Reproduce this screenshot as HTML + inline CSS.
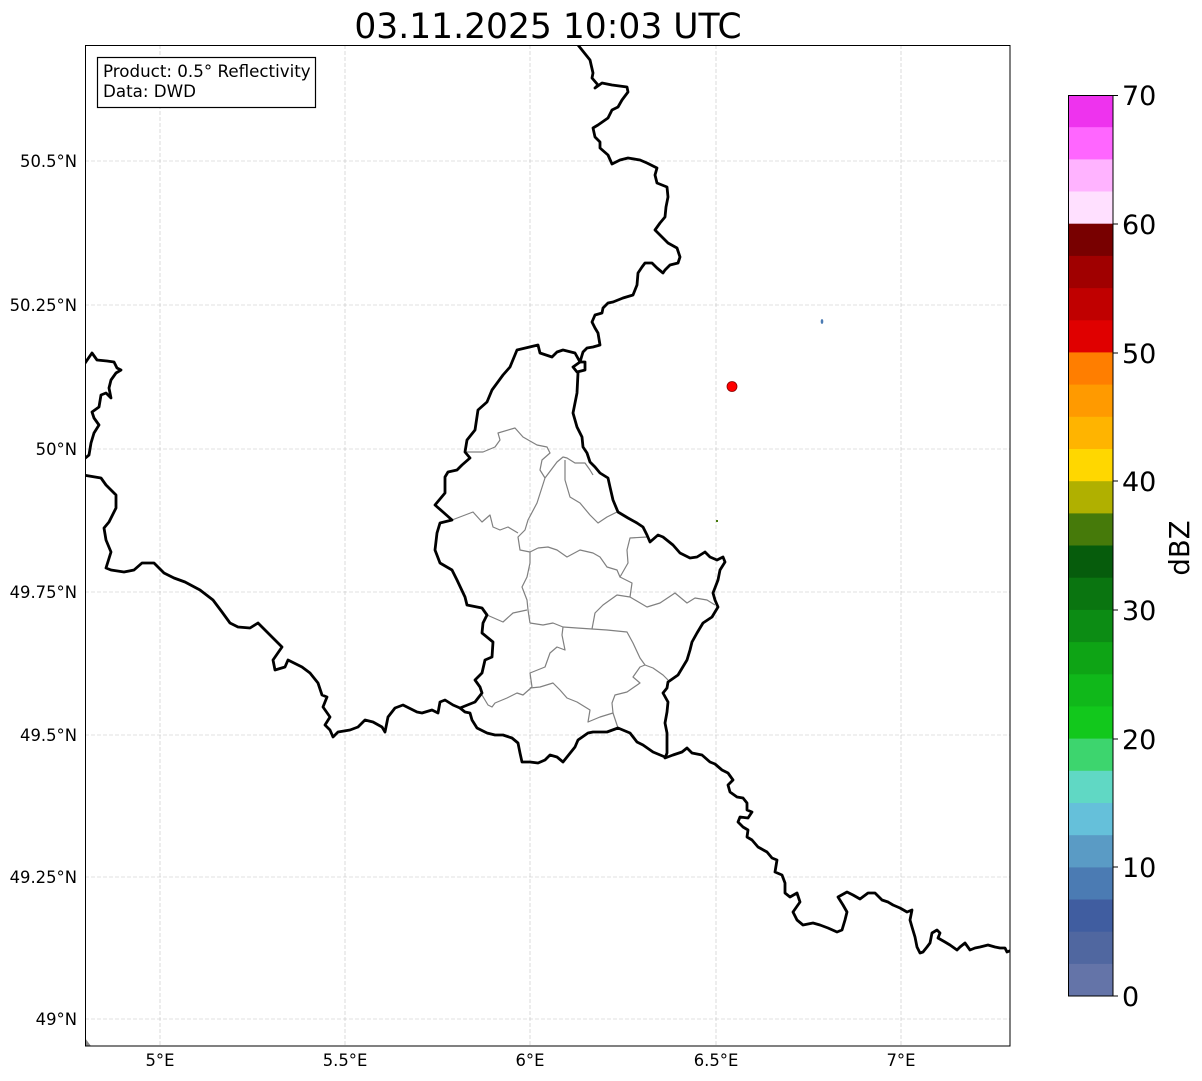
<!DOCTYPE html>
<html><head><meta charset="utf-8"><style>
html,body{margin:0;padding:0;background:#fff;}
svg{display:block;font-family:"DejaVu Sans","Liberation Sans",sans-serif;}
</style></head><body>
<svg width="1202" height="1081" viewBox="0 0 1202 1081" xmlns="http://www.w3.org/2000/svg">
<rect width="1202" height="1081" fill="#fff"/>
<defs><clipPath id="ax"><rect x="85" y="45" width="925" height="1001"/></clipPath></defs>
<text x="548" y="38" font-size="34.5" text-anchor="middle" fill="#000">03.11.2025 10:03 UTC</text>
<g stroke="#c4c4c4" stroke-width="0.6" stroke-dasharray="4,2" fill="none">
<line x1="160" y1="45" x2="160" y2="1046"/><line x1="345" y1="45" x2="345" y2="1046"/><line x1="530" y1="45" x2="530" y2="1046"/><line x1="716" y1="45" x2="716" y2="1046"/><line x1="901" y1="45" x2="901" y2="1046"/>
<line x1="85" y1="161" x2="1010" y2="161"/><line x1="85" y1="305" x2="1010" y2="305"/><line x1="85" y1="449" x2="1010" y2="449"/><line x1="85" y1="592" x2="1010" y2="592"/><line x1="85" y1="735" x2="1010" y2="735"/><line x1="85" y1="877" x2="1010" y2="877"/><line x1="85" y1="1019" x2="1010" y2="1019"/>
</g>
<g clip-path="url(#ax)">
<polygon points="85,1038 91,1046 85,1046" fill="#888"/>
<g stroke="#808080" stroke-width="1.2" fill="none" stroke-linejoin="round">
<polyline points="465,452 483,452 495,447 500,440 498,433 515,428 523,437 537,445 547,447 550,453 542,460 540,470 545,478"/>
<polyline points="545,478 557,462 563,457 567,458 575,463 585,463 590,470 593,475"/>
<polyline points="565,460 565,480 570,497 580,503 590,515 598,523 607,517 617,512"/>
<polyline points="545,478 537,503 528,520 525,530 518,537 520,550 530,552 538,548"/>
<polyline points="530,552 530,563 527,577 522,587 527,600 528,610 530,623"/>
<polyline points="452,520 473,512 482,522 490,515 493,527 500,530 508,527 518,533"/>
<polyline points="538,548 548,547 557,550 567,557 580,550 593,553 600,557 607,567 617,570 620,577 628,563 627,550 630,538 647,537"/>
<polyline points="620,577 632,583 630,597"/>
<polyline points="592,629 595,613 603,605 617,595 630,597 647,607 660,603 675,593 687,603 695,598 707,600 715,605"/>
<polyline points="487,615 503,622 513,613 527,610"/>
<polyline points="530,623 543,625 553,623 563,627 577,628 592,629 607,630 627,632 633,643 640,658 645,665 653,668 663,675 668,680"/>
<polyline points="563,627 562,635 565,650 557,647 550,653 545,667 530,673 532,687"/>
<polyline points="530,688 540,687 553,683 560,690 567,698 577,702 590,710 588,722 600,717 613,713 618,728"/>
<polyline points="613,713 612,703 615,695 627,692 640,683 633,677 640,667 645,665"/>
<polyline points="482,695 488,705 492,707 495,703 507,698 517,693 523,695 532,687"/>
</g>
<g stroke="#000" stroke-width="2.8" fill="none" stroke-linejoin="round" stroke-linecap="round">
<polyline points="578,45 590,60 593,73 592,78 598,85 595,88 602,83 612,85 627,87 628,92 622,100 618,107 612,110 608,118 598,125 593,128 595,137 600,142 600,148 608,155 612,164 620,160 628,158 640,160 647,163 657,168 655,175 657,183 667,187 668,197 666,207 665,217 660,223 655,230 662,237 668,243 677,248 680,257 678,263 670,265 665,270 663,273 657,268 652,263 645,263 642,267 638,273 637,285 633,295 623,298 613,302 608,303 603,308 602,313 595,315 592,322 595,328 598,333 600,345 593,347 587,348 583,352 580,362"/>
<polygon points="580,362 573,367 577,372 585,370 585,362"/>
<polyline points="578,373 577,393 573,413 577,427 582,437 583,447 587,453 590,462 595,467 600,473 608,478 610,487 613,500 618,512 628,518 637,523 643,527 647,535 650,542 658,535 663,537 673,545 680,553 690,558 697,557 705,552 710,557 717,560 723,557 725,562 720,570 718,580 713,593 715,600 718,607 712,617 703,623 697,633 692,642 690,650 687,660 678,675 668,682 667,688 663,693 668,702 667,712 665,723 667,733 667,753 665,758 673,755 682,752 687,748 692,753 702,755 710,762 715,764 722,770 728,773 733,780 728,785 730,792 737,797 743,798 747,803 747,810 752,812 748,818 740,817 738,822 743,827 748,830 747,837 752,840 758,847 767,852 772,858 777,860 775,872 782,875 785,883 785,893 790,897 797,893 800,902 793,912 797,920 803,925 813,923 820,925 828,928 837,932 842,930 845,920 847,912 843,905 838,897 847,892 853,895 860,899 868,893 875,893 882,900 888,902 893,905 900,908 907,912 912,910 910,920 912,927 915,937 917,947 920,953 923,952 927,947 930,943 932,933 937,930 940,933 938,938 945,942 950,945 957,950 960,947 965,943 970,950 975,948 980,947 988,945 995,947 1000,948 1005,948 1007,952 1012,950"/>
<polyline points="83,475 101,478 106,485 116,495 116,508 109,522 104,528 106,540 111,552 106,568 111,570 124,572 134,570 142,563 154,563 164,573 174,578 185,582 200,590 213,600 222,612 230,623 238,627 250,628 258,623 267,632 275,640 282,647 273,660 275,670 285,667 288,660 302,667 310,673 318,683 322,695 327,697 323,707 330,717 325,725 330,730 333,737 338,732 350,730 358,727 365,720 373,722 382,727 385,732 388,717 395,708 403,705 417,712 422,713 432,710 438,713 440,702 445,700 453,705 460,708 465,712 470,713 472,720 477,728 487,733 495,735 503,735 512,738 518,743 520,753 522,762 530,762 538,763 545,760 550,755 557,757 563,762 567,757 575,747 578,740 588,733 593,732 607,732 618,728 630,733 637,742 643,745 653,752 665,757"/>
<polyline points="460,708 475,702 482,693 480,687 475,680 482,673 485,660 492,657 493,642 482,633 483,623 487,615 482,608 467,605 465,597 457,580 452,570 440,563 435,550 437,533 440,523 452,520 443,512 435,505 445,493 445,477 448,472 457,470 462,465 470,458 465,452 467,440 475,430 478,410 487,402 492,390 503,375 510,367 517,350 538,345 540,353 552,357 557,352 563,350 575,353 580,362"/>
<polyline points="83,366 92,353 97,360 107,361 114,362 117,368 121,370 116,373 111,380 109,388 111,398 106,393 101,395 99,407 92,412 94,418 99,425 94,433 91,443 89,455 83,460"/>
</g>
<circle cx="732" cy="386.5" r="5" fill="#ff0000" stroke="#8a0000" stroke-width="0.8"/>
<ellipse cx="822" cy="321.5" rx="1.3" ry="2.4" fill="#4b7bb3"/>
<rect x="716" y="520" width="2" height="2" fill="#467a0a"/>
</g>
<rect x="85.5" y="45.5" width="924.5" height="1000.5" fill="none" stroke="#000" stroke-width="1"/>
<rect x="97.5" y="57.5" width="218" height="50" fill="#fff" stroke="#000" stroke-width="1.2"/>
<text x="103" y="77" font-size="16.7" fill="#000">Product: 0.5° Reflectivity</text>
<text x="103" y="97" font-size="16.7" fill="#000">Data: DWD</text>
<g font-size="16.4" fill="#000" text-anchor="end">
<text x="77" y="167">50.5°N</text><text x="77" y="311">50.25°N</text><text x="77" y="455">50°N</text><text x="77" y="598">49.75°N</text><text x="77" y="741">49.5°N</text><text x="77" y="883">49.25°N</text><text x="77" y="1025">49°N</text>
</g>
<g font-size="16.4" fill="#000" text-anchor="middle">
<text x="160" y="1066">5°E</text><text x="345" y="1066">5.5°E</text><text x="530" y="1066">6°E</text><text x="716" y="1066">6.5°E</text><text x="901" y="1066">7°E</text>
</g>
<g>
<rect x="1068" y="95.0" width="45" height="32.7" fill="#ee33ee"/>
<rect x="1068" y="127.2" width="45" height="32.7" fill="#ff66ff"/>
<rect x="1068" y="159.4" width="45" height="32.7" fill="#ffb3ff"/>
<rect x="1068" y="191.5" width="45" height="32.7" fill="#ffe0ff"/>
<rect x="1068" y="223.7" width="45" height="32.7" fill="#780000"/>
<rect x="1068" y="255.9" width="45" height="32.7" fill="#a00000"/>
<rect x="1068" y="288.1" width="45" height="32.7" fill="#c00000"/>
<rect x="1068" y="320.3" width="45" height="32.7" fill="#e00000"/>
<rect x="1068" y="352.4" width="45" height="32.7" fill="#ff7e00"/>
<rect x="1068" y="384.6" width="45" height="32.7" fill="#ff9a00"/>
<rect x="1068" y="416.8" width="45" height="32.7" fill="#ffb400"/>
<rect x="1068" y="449.0" width="45" height="32.7" fill="#ffd700"/>
<rect x="1068" y="481.2" width="45" height="32.7" fill="#b0b000"/>
<rect x="1068" y="513.4" width="45" height="32.7" fill="#467a0a"/>
<rect x="1068" y="545.5" width="45" height="32.7" fill="#065c0c"/>
<rect x="1068" y="577.7" width="45" height="32.7" fill="#0a7510"/>
<rect x="1068" y="609.9" width="45" height="32.7" fill="#0c8c14"/>
<rect x="1068" y="642.1" width="45" height="32.7" fill="#0ea415"/>
<rect x="1068" y="674.3" width="45" height="32.7" fill="#10b81a"/>
<rect x="1068" y="706.4" width="45" height="32.7" fill="#12c81c"/>
<rect x="1068" y="738.6" width="45" height="32.7" fill="#3dd56e"/>
<rect x="1068" y="770.8" width="45" height="32.7" fill="#60d8c4"/>
<rect x="1068" y="803.0" width="45" height="32.7" fill="#65c0da"/>
<rect x="1068" y="835.2" width="45" height="32.7" fill="#5a9bc5"/>
<rect x="1068" y="867.4" width="45" height="32.7" fill="#4b7bb3"/>
<rect x="1068" y="899.5" width="45" height="32.7" fill="#405da0"/>
<rect x="1068" y="931.7" width="45" height="32.7" fill="#5067a0"/>
<rect x="1068" y="963.9" width="45" height="32.1" fill="#6474a8"/>
<rect x="1068.5" y="95.5" width="44.5" height="900.5" fill="none" stroke="#000" stroke-width="1"/>
<g stroke="#000" stroke-width="1">
<line x1="1113" y1="95.5" x2="1118" y2="95.5"/><line x1="1113" y1="224" x2="1118" y2="224"/><line x1="1113" y1="353" x2="1118" y2="353"/><line x1="1113" y1="481" x2="1118" y2="481"/><line x1="1113" y1="610" x2="1118" y2="610"/><line x1="1113" y1="739" x2="1118" y2="739"/><line x1="1113" y1="867" x2="1118" y2="867"/><line x1="1113" y1="996" x2="1118" y2="996"/>
</g>
<g font-size="27" fill="#000">
<text x="1122" y="105">70</text><text x="1122" y="234">60</text><text x="1122" y="363">50</text><text x="1122" y="491">40</text><text x="1122" y="620">30</text><text x="1122" y="749">20</text><text x="1122" y="877">10</text><text x="1122" y="1006">0</text>
</g>
<text transform="translate(1189,548) rotate(-90)" font-size="27.5" text-anchor="middle" fill="#000">dBZ</text>
</g>
</svg>
</body></html>
